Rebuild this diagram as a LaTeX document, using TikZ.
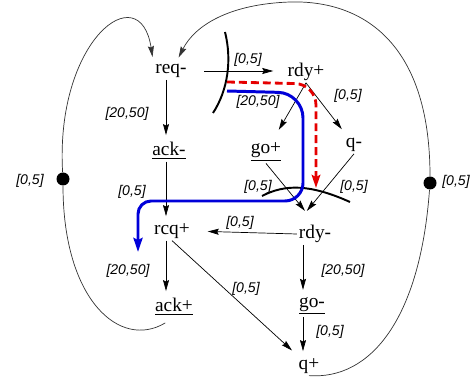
\documentclass[tikz,border=0pt]{standalone}
\usepackage{fontspec}
\setmainfont{Liberation Serif}
\newfontfamily\lblfont{Liberation Sans}
\usetikzlibrary{arrows.meta,calc}
\tikzset{
  sig/.style={inner sep=1pt, font=\fontsize{11}{13}\selectfont},
  lbl/.style={font=\lblfont\itshape\fontsize{8}{9}\selectfont, inner sep=0pt},
  arr/.style={-{Stealth[length=2.2mm,width=1.2mm,inset=0.3mm]}, thin, shorten >=3pt},
  loopln/.style={thin, draw=black!80},
  cut/.style={line width=1.1pt},
  dot/.style={circle, fill=black, inner sep=0pt, minimum size=7.4pt},
  bluepath/.style={draw=blue!85!black, line width=1.7pt, -{Stealth[length=2.8mm,width=1.8mm,inset=0.4mm]}},
  redpath/.style={draw=red!90!black, line width=1.6pt, dash pattern=on 4.5pt off 2.3pt, -{Stealth[length=2.6mm,width=1.7mm,inset=0.4mm]}},
}
\begin{document}
\begin{tikzpicture}[x=0.02cm,y=-0.02cm]
\useasboundingbox (0,0) rectangle (473,381);
% signals
\node[sig] (req)  at (171,71)  {req-};
\node[sig] (rdyp) at (306,72)  {rdy+};
\node[sig] (ackm) at (169,151) {\underline{ack-}};
\node[sig] (gop)  at (266,152) {\underline{go+}};
\node[sig] (qm)   at (354,145) {q-};
\node[sig] (rcqp) at (172,231) {rcq+};
\node[sig] (rdym) at (315,234) {rdy-};
\node[sig] (ackp) at (174,307) {\underline{ack+}};
\node[sig] (gom)  at (312,306) {\underline{go-}};
\node[sig] (qp)   at (309,366) {q+};
\node[dot] (ldot) at (63,179) {};
\node[dot] (rdot) at (430,183) {};
\coordinate (colL) at (166,0);
\coordinate (colR) at (303,0);
% arcs between signals
\draw[arr, shorten <=9pt, shorten >=7pt] (req.east) -- (req.east -| rdyp.west);
\draw[arr] (req.south -| colL) -- (ackm.north -| colL);
\draw[arr] (ackm.south -| colL) -- (rcqp.north -| colL);
\draw[arr] (rcqp.south -| colL) -- (ackp.north -| colL);
\draw[arr, shorten >=5pt] (rcqp.south) -- (qp);
\draw[arr, shorten >=7pt] (rdyp.south) -- (gop);
\draw[arr, shorten >=5pt] (rdyp.south) -- (qm);
\draw[arr, shorten >=9pt] (gop.south) -- (rdym.north);
\draw[arr, shorten >=9pt] (qm.south) -- (rdym.north west);
\draw[arr, shorten >=9pt] (rdym.west) -- (rcqp.east);
\draw[arr] (rdym.south -| colR) -- (gom.north -| colR);
\draw[arr] (gom.south -| colR) -- (qp.north -| colR);
% environment loops
\draw[loopln, arr] (ldot) .. controls (55,40) and (140,-25) .. (req.north west);
\draw[loopln, arr] (rdot) .. controls (430,40) and (360,0) .. (290,2) .. controls (230,4) and (195,25) .. ([xshift=3pt]req.north);
\draw[loopln] (ldot) .. controls (63,300) and (120,350) .. ([xshift=-5pt,yshift=-3pt]ackp.south);
\draw[loopln] (qp.south) .. controls (370,380) and (420,320) .. (rdot);
% delay labels
\node[lbl] (d1)  at (248,60)  {[0,5]};
\node[lbl] (d2)  at (258,102) {[20,50]};
\node[lbl] (d3)  at (127,114) {[20,50]};
\node[lbl] (d4)  at (348,96)  {[0,5]};
\node[lbl] (d5)  at (30,181)  {[0,5]};
\node[lbl] (d6)  at (456,182) {[0,5]};
\node[lbl] (d7)  at (132,192) {[0,5]};
\node[lbl] (d8)  at (258,187) {[0,5]};
\node[lbl] (d9)  at (354,187) {[0,5]};
\node[lbl] (d10) at (240,223) {[0,5]};
\node[lbl] (d11) at (128,271) {[20,50]};
\node[lbl] (d12) at (246,289) {[0,5]};
\node[lbl] (d13) at (343,271) {[20,50]};
\node[lbl] (d14) at (330,332) {[0,5]};
% cuts and paths
\draw[cut] (225,32) .. controls (232,60) and (228,90) .. (213,113);
\draw[cut] (262,196) .. controls (285,184) and (310,184) .. (350,202);
\draw[redpath, rounded corners=0.42cm] (227,82) -- (316,84) -- (316,188);
\draw[bluepath, rounded corners=0.5cm] (227,91) -- (303,93) [rounded corners=0.36cm] -- (303,201) [rounded corners=0.26cm] -- (138,201) -- (138,252);
\end{tikzpicture}
\end{document}
